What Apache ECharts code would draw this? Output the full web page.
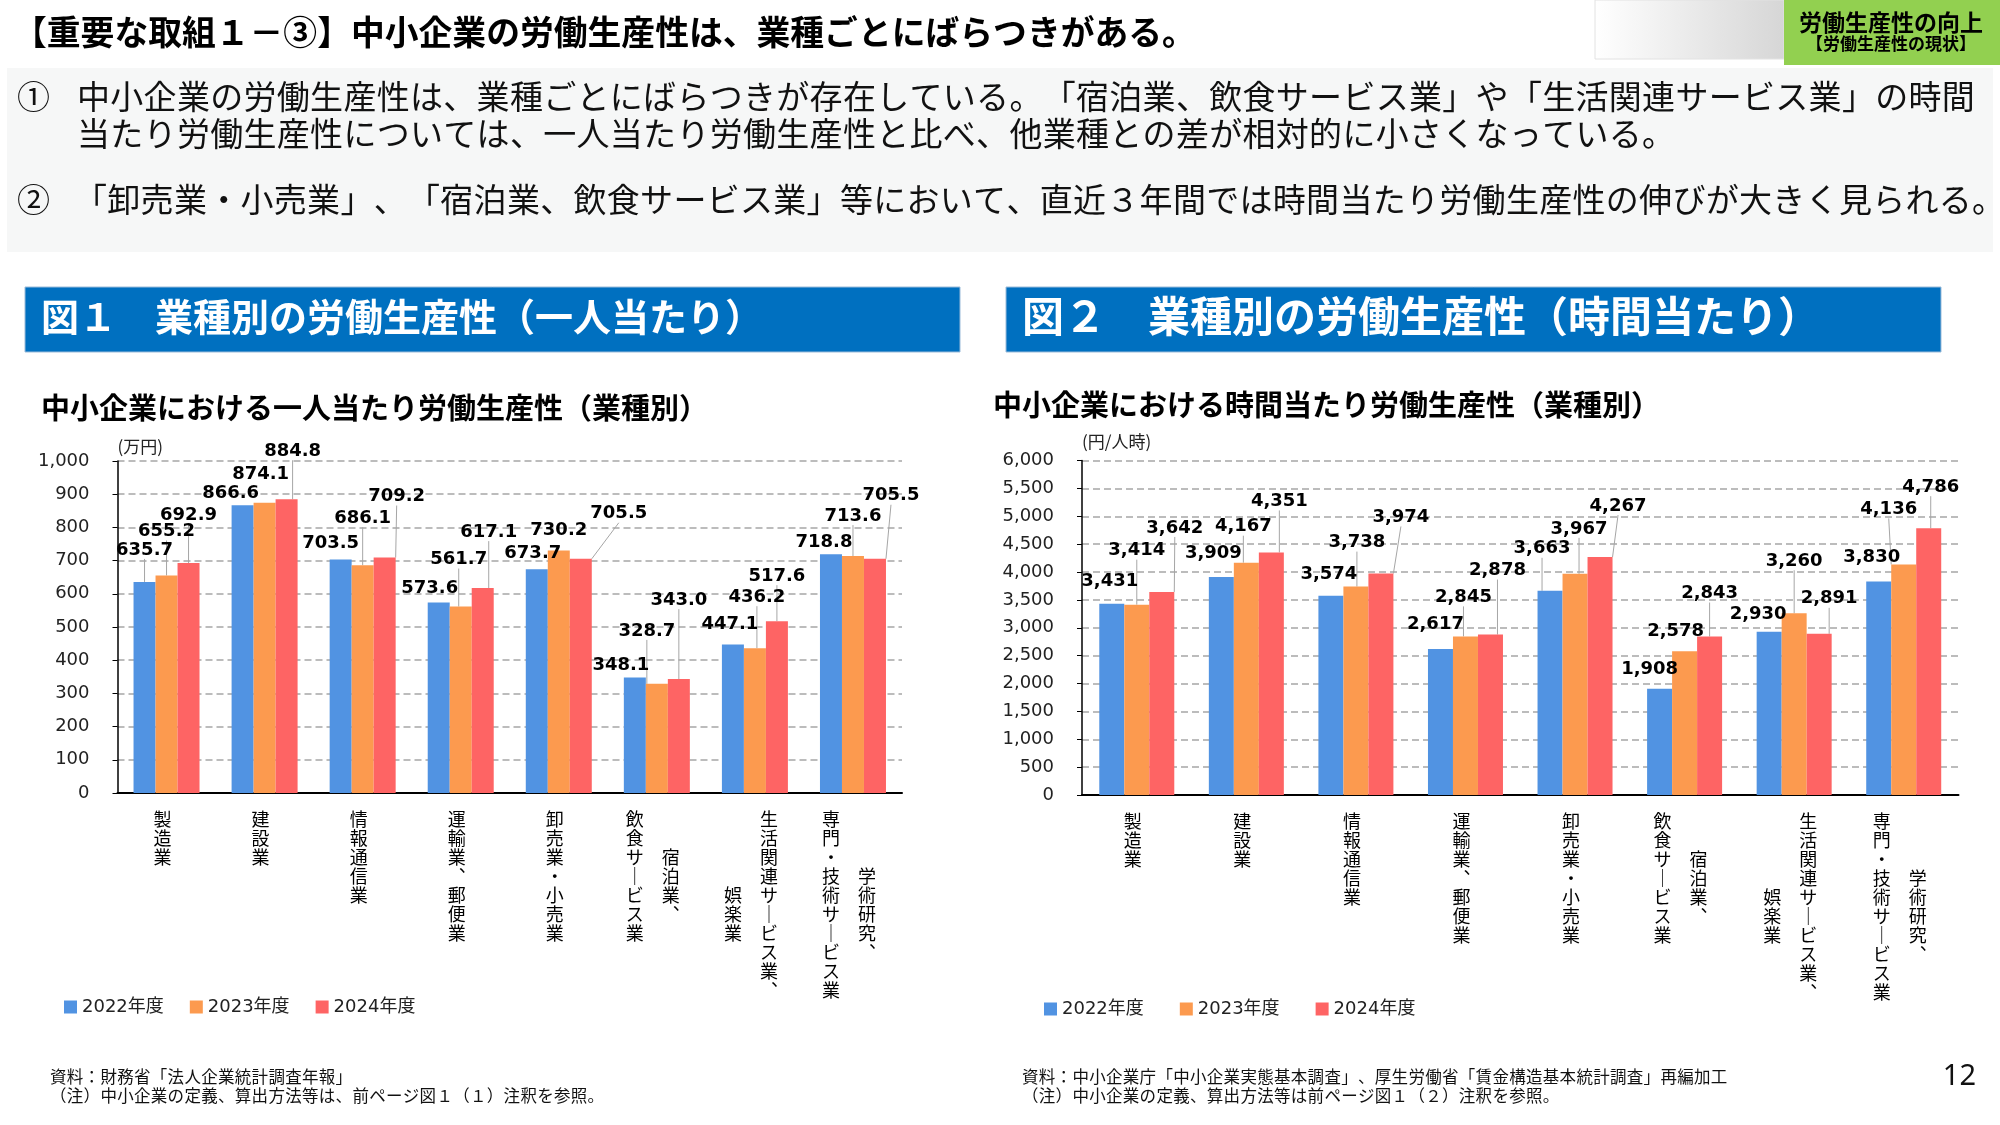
<!DOCTYPE html>
<html>
<head>
<meta charset="utf-8">
<title>業種別の労働生産性</title>
<script src="https://cdn.jsdelivr.net/npm/echarts@6/dist/echarts.min.js"></script>
<style>
html, body { margin: 0; padding: 0; background: #fff; }
#main { width: 2000px; height: 1125px; }
</style>
</head>
<body>
<div id="main"></div>
<script>
// 業種（横軸）
var categories = ['製造業', '建設業', '情報通信業', '運輸業、郵便業', '卸売業・小売業',
    '宿泊業、飲食サービス業', '生活関連サービス業、娯楽業', '学術研究、専門・技術サービス業'];
// 縦書きで2列になる業種（右列, 左列）
var tickColumns = {
    '宿泊業、飲食サービス業': ['宿泊業、', '飲食サービス業'],
    '生活関連サービス業、娯楽業': ['生活関連サービス業、', '娯楽業'],
    '学術研究、専門・技術サービス業': ['学術研究、', '専門・技術サービス業']
};
var years = ['2022年度', '2023年度', '2024年度'];

// 図1 一人当たり労働生産性（万円）
var perPerson2022 = [635.7, 866.6, 703.5, 573.6, 673.7, 348.1, 447.1, 718.8];
var perPerson2023 = [655.2, 874.1, 686.1, 561.7, 730.2, 328.7, 436.2, 713.6];
var perPerson2024 = [692.9, 884.8, 709.2, 617.1, 705.5, 343.0, 517.6, 705.5];
var perPersonMax = 1000, perPersonStep = 100;

// 図2 時間当たり労働生産性（円/人時）
var perHour2022 = [3431, 3909, 3574, 2617, 3663, 1908, 2930, 3830];
var perHour2023 = [3414, 4167, 3738, 2845, 3967, 2578, 3260, 4136];
var perHour2024 = [3642, 4351, 3974, 2878, 4267, 2843, 2891, 4786];
var perHourMax = 6000, perHourStep = 500;

// ラベルのずらし量 [dx, dy]（元図の引き出し線つきラベル）
var nudgePerson = [
    [[0,-18],[-12,2],[-10,-2],[-9,0],[-4,-2],[-14,2],[-3,-6],[-7,2]],
    [[0,-30],[-4,-14],[0,-33],[-2,-33],[0,-6],[-10,-39],[2,-37],[0,-26]],
    [[0,-34],[6,-34],[12,-47],[6,-42],[38,-31],[0,-65],[0,-31],[16,-49]]
];
var nudgeHour = [
    [[-2,-8],[-8,-10],[-2,-7],[-5,-11],[-8,-28],[-10,-5],[-11,-3],[-7,-10]],
    [[0,-40],[-3,-22],[1,-30],[-2,-25],[4,-31],[-9,-6],[0,-38],[-15,-41]],
    [[13,-50],[8,-37],[20,-42],[7,-50],[18,-37],[0,-29],[10,-21],[2,-27]]
];

var palette = ['#5193e2', '#fc9a4f', '#fe6464'];
var jp = '"Noto Sans CJK JP"';
var num = '"DejaVu Sans"';

function toVertical(s) {
    return s.replace(/ー/g, '｜').replace(/、/g, '︑');
}
// 縦書きの軸ラベル
function verticalLabel(name) {
    var cols = tickColumns[name];
    if (!cols) return toVertical(name).split('').join('\n');
    var right = toVertical(cols[0]).split('');
    var left = toVertical(cols[1]).split('');
    var n = Math.max(right.length, left.length);
    var ro = Math.round((n - right.length) / 2);
    var lo = Math.round((n - left.length) / 2);
    var rows = [];
    for (var i = 0; i < n; i++) {
        rows.push((left[i - lo] || '　') + '　' + (right[i - ro] || '　'));
    }
    return rows.join('\n');
}

function fmtPerson(v) { return v.toFixed(1); }
function fmtHour(v) { return v.toLocaleString('en-US'); }

function barSeries(k, values, axis, nudges, fmt, width) {
    return {
        name: years[k],
        type: 'bar',
        xAxisIndex: axis,
        yAxisIndex: axis,
        barWidth: width,
        barGap: '0%',
        itemStyle: { color: palette[k] },
        data: values.map(function (v, i) {
            return { value: v, labelLine: { show: nudges[i][1] <= -15 } };
        }),
        label: {
            show: true, position: 'top', distance: 5,
            formatter: function (p) { return fmt(p.value); },
            fontFamily: num, fontWeight: 'bold', fontSize: 18, color: '#000'
        },
        labelLayout: function (p) {
            var n = nudges[p.dataIndex];
            return { dx: n[0], dy: n[1] };
        },
        labelLine: { show: false, lineStyle: { color: '#a6a6a6', width: 1 } }
    };
}

function xAxisCfg(gi) {
    return {
        type: 'category', gridIndex: gi, data: categories,
        axisLine: { lineStyle: { color: '#000', width: 2 } },
        axisTick: { length: 7, lineStyle: { color: '#000', width: 1.5 } },
        axisLabel: {
            interval: 0, formatter: verticalLabel, fontFamily: jp, fontSize: 18,
            lineHeight: 19, color: '#000', margin: 17, padding: [0, 8, 0, 0]
        }
    };
}

function yAxisCfg(gi, max, step, unit, gap) {
    return {
        type: 'value', gridIndex: gi, min: 0, max: max, interval: step,
        name: unit, nameLocation: 'end', nameGap: gap,
        nameTextStyle: { align: 'left', verticalAlign: 'middle', fontFamily: jp, fontSize: 17, color: '#222' },
        axisLine: { show: true, lineStyle: { color: '#000', width: 1.5 } },
        axisTick: { show: true, length: 5, lineStyle: { color: '#000' } },
        splitLine: { lineStyle: { color: '#a6a6a6', type: [7, 4], width: 1.5 } },
        axisLabel: {
            formatter: function (v) { return v.toLocaleString('en-US'); },
            margin: 28, fontFamily: num, fontSize: 18, color: '#222'
        }
    };
}

function txt(x, y, s, font, extra) {
    var style = { text: s, font: font, fill: '#111', textAlign: 'left', textVerticalAlign: 'middle' };
    for (var k in extra) style[k] = extra[k];
    return { type: 'text', x: x, y: y, style: style };
}
// 全角文字を等幅で並べる（句読点の詰めを避ける）
function mono(x, y, s, font, pitch, extra) {
    var out = [];
    var chars = Array.from(s);
    for (var i = 0; i < chars.length; i++) {
        out.push(txt(x + i * pitch, y, chars[i], font, extra));
    }
    return out;
}

var body = '33px ' + jp, note = '16.5px ' + jp;
var graphics = [].concat(
    [
        { type: 'rect', shape: { x: 1595, y: 0, width: 189, height: 59 },
          style: { fill: new echarts.graphic.LinearGradient(0, 0, 1, 0, [
              { offset: 0, color: '#ffffff' }, { offset: 1, color: '#d6d6d6' }]), stroke: '#e2e2e2', lineWidth: 1 } },
        { type: 'rect', shape: { x: 1784, y: 0, width: 216, height: 65 }, style: { fill: '#92d050' } },
        txt(1891, 22, '労働生産性の向上', 'bold 23px ' + jp, { textAlign: 'center', fill: '#000' }),
        txt(1891, 44, '【労働生産性の現状】', 'bold 17px ' + jp, { textAlign: 'center', fill: '#000' }),
        txt(13, 32, '【重要な取組１－③】中小企業の労働生産性は、業種ごとにばらつきがある。', 'bold 33.8px ' + jp, { fill: '#000' }),
        { type: 'rect', shape: { x: 7, y: 68, width: 1986, height: 184 }, style: { fill: '#f6f7f7' } },
        txt(17, 96, '①', body),
        txt(17, 199, '②', body),
        { type: 'rect', shape: { x: 25, y: 287, width: 935, height: 65 }, style: { fill: '#0070c0', stroke: '#9bbbd9', lineWidth: 1 } },
        txt(41, 317, '図１　業種別の労働生産性（一人当たり）', 'bold 38px ' + jp, { fill: '#fff' }),
        { type: 'rect', shape: { x: 1006, y: 287, width: 935, height: 65 }, style: { fill: '#0070c0', stroke: '#9bbbd9', lineWidth: 1 } },
        txt(1022, 316, '図２　業種別の労働生産性（時間当たり）', 'bold 42px ' + jp, { fill: '#fff' }),
        txt(41, 408, '中小企業における一人当たり労働生産性（業種別）', 'bold 29px ' + jp, { fill: '#000' }),
        txt(993, 405, '中小企業における時間当たり労働生産性（業種別）', 'bold 29px ' + jp, { fill: '#000' }),
        txt(1976, 1077, '12', '29px "Noto Sans"', { textAlign: 'right' })
    ],
    mono(77, 96, '中小企業の労働生産性は、業種ごとにばらつきが存在している。「宿泊業、飲食サービス業」や「生活関連サービス業」の時間', body, 33.3),
    mono(77, 133, '当たり労働生産性については、一人当たり労働生産性と比べ、他業種との差が相対的に小さくなっている。', body, 33.3),
    mono(74, 199, '「卸売業・小売業」、「宿泊業、飲食サービス業」等において、直近３年間では時間当たり労働生産性の伸びが大きく見られる。', body, 33.3),
    mono(50, 1077, '資料：財務省「法人企業統計調査年報」', note, 16.8),
    mono(50, 1096, '（注）中小企業の定義、算出方法等は、前ページ図１（１）注釈を参照。', note, 16.8),
    mono(1022, 1077, '資料：中小企業庁「中小企業実態基本調査」、厚生労働省「賃金構造基本統計調査」再編加工', note, 16.8),
    mono(1022, 1096, '（注）中小企業の定義、算出方法等は前ページ図１（２）注釈を参照。', note, 16.8)
);

var chart = echarts.init(document.getElementById('main'), null, { width: 2000, height: 1125 });

var option = {
    animation: false,
    backgroundColor: '#fff',
    graphic: graphics,
    legend: [
        { data: years, left: 59, top: 993, icon: 'rect', itemWidth: 13, itemHeight: 13, itemGap: 26,
          textStyle: { fontFamily: num + ', ' + jp, fontSize: 18, color: '#222' } },
        { data: years, left: 1039, top: 995, icon: 'rect', itemWidth: 13, itemHeight: 13, itemGap: 36,
          textStyle: { fontFamily: num + ', ' + jp, fontSize: 18, color: '#222' } }
    ],
    grid: [
        { left: 117.5, right: 1098, top: 461, bottom: 332 },
        { left: 1082, right: 41.5, top: 460.5, bottom: 330 }
    ],
    xAxis: [xAxisCfg(0), xAxisCfg(1)],
    yAxis: [
        yAxisCfg(0, perPersonMax, perPersonStep, '(万円)', 14),
        yAxisCfg(1, perHourMax, perHourStep, '(円/人時)', 19)
    ],
    series: [
        barSeries(0, perPerson2022, 0, nudgePerson[0], fmtPerson, 22),
        barSeries(1, perPerson2023, 0, nudgePerson[1], fmtPerson, 22),
        barSeries(2, perPerson2024, 0, nudgePerson[2], fmtPerson, 22),
        barSeries(0, perHour2022, 1, nudgeHour[0], fmtHour, 25),
        barSeries(1, perHour2023, 1, nudgeHour[1], fmtHour, 25),
        barSeries(2, perHour2024, 1, nudgeHour[2], fmtHour, 25)
    ]
};

chart.setOption(option);
</script>
</body>
</html>
